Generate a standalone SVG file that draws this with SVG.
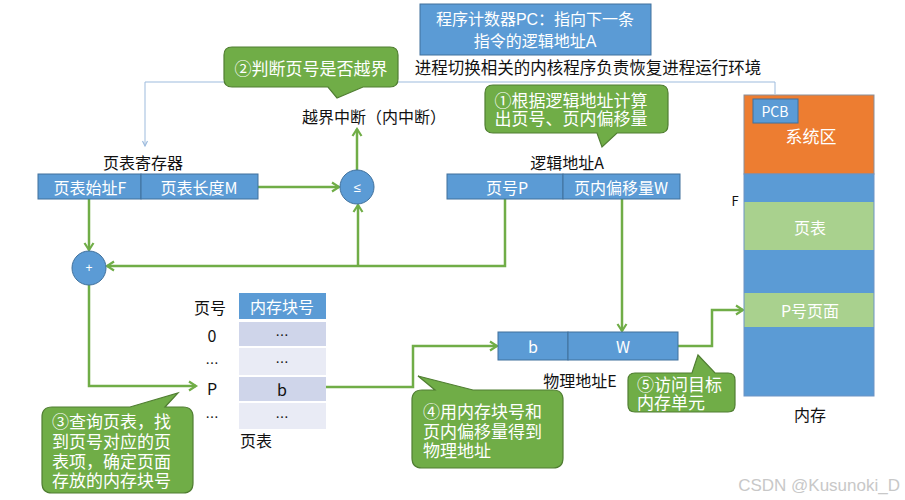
<svg xmlns="http://www.w3.org/2000/svg" width="905" height="500" viewBox="0 0 905 500">
<style>
text{font-family:"Noto Sans CJK SC","Liberation Sans",sans-serif;dominant-baseline:central}
.w{fill:#fff;font-size:16px}
.k{fill:#111;font-size:16px}
.m{text-anchor:middle}
.ml{font-family:"Liberation Sans","Noto Sans CJK SC",sans-serif}
.blue{fill:#5B9BD5;stroke:#41719C;stroke-width:1}
.call{fill:#70AD47;stroke:#507E32;stroke-width:1.2}
.ct{fill:#fff;font-size:17px}
.g{fill:none;stroke:#70AD47;stroke-width:2.5}
.thin{fill:none;stroke:#9DBBDD;stroke-width:1}
</style>
<defs>
<marker id="ah" markerUnits="userSpaceOnUse" markerWidth="12" markerHeight="12" refX="9" refY="6" orient="auto">
<path d="M2,1.5 L9,6 L2,10.5" fill="none" stroke="#70AD47" stroke-width="2.2"/>
</marker>
<marker id="ahs" markerUnits="userSpaceOnUse" markerWidth="8" markerHeight="8" refX="6" refY="4" orient="auto">
<path d="M1,1.5 L6,4 L1,6.5" fill="none" stroke="#9DBBDD" stroke-width="1.2"/>
</marker>
</defs>

<g id="connectors">
<path class="thin" d="M775,94 V82 H145 V146" marker-end="url(#ahs)"/>
<path class="g" d="M258,187 H339" marker-end="url(#ah)"/>
<path class="g" d="M357,170 V129" marker-end="url(#ah)"/>
<path class="g" d="M505,199 V266 H107" marker-end="url(#ah)"/>
<path class="g" d="M358,266 V205" marker-end="url(#ah)"/>
<path class="g" d="M89,199 V250" marker-end="url(#ah)"/>
<path class="g" d="M89,285 V386 H196" marker-end="url(#ah)"/>
<path class="g" d="M326,387 H413 V346 H497" marker-end="url(#ah)"/>
<path class="g" d="M622,199 V331" marker-end="url(#ah)"/>
<path class="g" d="M678,346 H712 V310 H743" marker-end="url(#ah)"/>
</g>

<g id="pc">
<rect x="420" y="4" width="231" height="51" class="blue"/>
<text class="w m ml"><tspan x="535" y="19">程序计数器PC：指向下一条</tspan><tspan x="535" y="41">指令的逻辑地址A</tspan></text>
</g>
<g id="kernel-label"><text x="588" y="67" class="k m" style="font-size:16.5px">进程切换相关的内核程序负责恢复进程运行环境</text></g>

<g id="callout2">
<path class="call" d="M232,47 H390 Q398,47 398,55 V79 Q398,87 390,87 H363 L337,98 L328,87 H232 Q224,87 224,79 V55 Q224,47 232,47 Z"/>
<text x="311" y="67" class="ct m">②判断页号是否越界</text>
</g>

<g id="interrupt"><text x="374" y="116" class="k m">越界中断（内中断）</text></g>

<g id="callout1">
<path class="call" d="M493,85 H660 Q668,85 668,93 V125 Q668,133 660,133 H617 L602,147 L597,133 H493 Q485,133 485,125 V93 Q485,85 493,85 Z"/>
<text class="ct m ml"><tspan x="571" y="101">①根据逻辑地址计算</tspan><tspan x="571" y="119">出页号、页内偏移量</tspan></text>
</g>

<g id="page-table-register">
<text x="143" y="162" class="k m">页表寄存器</text>
<rect x="38" y="174" width="103" height="25" class="blue"/>
<rect x="141" y="174" width="117" height="25" class="blue"/>
<text x="90" y="187" class="w m">页表始址F</text>
<text x="199" y="187" class="w m">页表长度M</text>
</g>

<g id="compare">
<circle cx="357" cy="187" r="17" class="blue"/>
<text x="357" y="187" class="w m" style="font-family:'Liberation Sans',sans-serif;font-size:13px">≤</text>
</g>

<g id="logical-address">
<text x="567" y="162" class="k m">逻辑地址A</text>
<rect x="447" y="174" width="116" height="25" class="blue"/>
<rect x="563" y="174" width="117" height="25" class="blue"/>
<text x="507" y="187" class="w m">页号P</text>
<text x="621" y="187" class="w m">页内偏移量W</text>
</g>

<g id="adder">
<circle cx="89" cy="268" r="17" class="blue"/>
<text x="89" y="268" class="w m" style="font-family:'Liberation Sans',sans-serif;font-size:12px">+</text>
</g>

<g id="page-table">
<text x="210" y="307" class="k m">页号</text>
<rect x="239" y="293" width="87" height="26" fill="#5B9BD5"/>
<text x="282" y="306" class="w m">内存块号</text>
<rect x="239" y="322" width="87" height="24" fill="#CFD5EA"/>
<rect x="239" y="348" width="87" height="27" fill="#E9EBF5"/>
<rect x="239" y="377" width="87" height="24" fill="#CFD5EA"/>
<rect x="239" y="403" width="87" height="26" fill="#E9EBF5"/>
<text x="282" y="334" class="k m" style="font-size:13px">…</text>
<text x="282" y="361" class="k m" style="font-size:13px">…</text>
<text x="282" y="389" class="k m">b</text>
<text x="282" y="416" class="k m" style="font-size:13px">…</text>
<text x="212" y="335" class="k m">0</text>
<text x="212" y="362" class="k m" style="font-size:13px">…</text>
<text x="212" y="388" class="k m">P</text>
<text x="212" y="416" class="k m" style="font-size:13px">…</text>
<text x="240" y="440" class="k">页表</text>
</g>

<g id="physical-address">
<rect x="498" y="332" width="70" height="28" class="blue"/>
<rect x="568" y="332" width="110" height="28" class="blue"/>
<text x="533" y="346" class="w m">b</text>
<text x="623" y="346" class="w m">W</text>
<text x="580" y="380" class="k m">物理地址E</text>
</g>

<g id="callout3">
<path class="call" d="M52,407 H130 L178,393 L165,407 H183 Q193,407 193,417 V483 Q193,493 183,493 H52 Q42,493 42,483 V417 Q42,407 52,407 Z"/>
<text class="ct ml"><tspan x="52" y="422">③查询页表，找</tspan><tspan x="52" y="442">到页号对应的页</tspan><tspan x="52" y="462">表项，确定页面</tspan><tspan x="52" y="481">存放的内存块号</tspan></text>
</g>

<g id="callout4">
<path class="call" d="M422,390 H435 L418,376 L473,390 H553 Q563,390 563,400 V458 Q563,468 553,468 H422 Q412,468 412,458 V400 Q412,390 422,390 Z"/>
<text class="ct ml"><tspan x="423" y="412">④用内存块号和</tspan><tspan x="423" y="432">页内偏移量得到</tspan><tspan x="423" y="451">物理地址</tspan></text>
</g>

<g id="callout5">
<path class="call" d="M635,373 H692 L698,355 L715,373 H728 Q735,373 735,380 V405 Q735,412 728,412 H635 Q628,412 628,405 V380 Q628,373 635,373 Z"/>
<text class="ct ml"><tspan x="637" y="385">⑤访问目标</tspan><tspan x="637" y="403">内存单元</tspan></text>
</g>

<g id="memory">
<rect x="744" y="95" width="130" height="79" fill="#ED7D31" stroke="#8A8F99" stroke-width="1"/>
<rect x="744" y="174" width="130" height="28" fill="#5B9BD5"/>
<rect x="744" y="202" width="130" height="48" fill="#A9D18E"/>
<rect x="744" y="250" width="130" height="43" fill="#5B9BD5"/>
<rect x="744" y="293" width="130" height="34" fill="#A9D18E"/>
<rect x="744" y="327" width="130" height="69" fill="#5B9BD5"/>
<rect x="744" y="174" width="130" height="222" fill="none" stroke="#6C93C4" stroke-width="1"/>
<rect x="753" y="99" width="45" height="24" class="blue" stroke="#7A8594"/>
<text x="775" y="111" class="w m" style="font-size:14px">PCB</text>
<text x="811" y="135" class="w m" style="font-size:17px">系统区</text>
<text x="810" y="227" class="w m">页表</text>
<text x="810" y="310" class="w m">P号页面</text>
<text x="735" y="200" class="k m" style="font-size:13px">F</text>
<text x="810" y="414" class="k m">内存</text>
</g>

<g id="watermark"><text x="900" y="485" style="font-family:'Liberation Sans',sans-serif;font-size:17px;fill:#C8C8C8;text-anchor:end">CSDN @Kusunoki_D</text></g>
</svg>
